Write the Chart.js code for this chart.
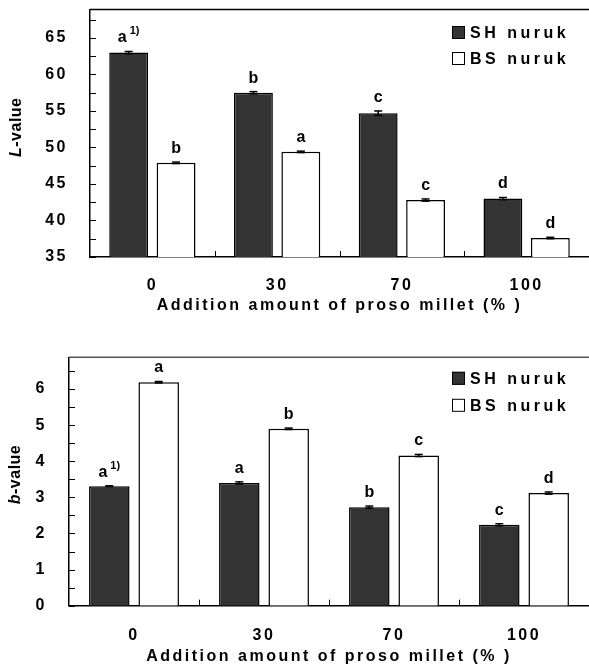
<!DOCTYPE html>
<html><head><meta charset="utf-8">
<script src="https://cdn.jsdelivr.net/npm/chart.js@4/dist/chart.umd.min.js"></script>
<style>
html,body{margin:0;padding:0;background:#fff;}
.box{position:absolute;left:0;width:589px;}
</style></head><body>
<div class="box" style="top:0;height:316px"><canvas id="c1"></canvas></div>
<div class="box" style="top:316px;height:350px"><canvas id="c2"></canvas></div>
<script>
// ---- data ----
const categories = ['0', '30', '70', '100'];
const seriesNames = ['SH nuruk', 'BS nuruk'];
const xTitle = 'Addition amount of proso millet (% )';

const lSH = [63.0, 57.5, 54.7, 43.0];
const lBS = [47.9, 49.4, 42.8, 37.6];
const lSHErr = [0.15, 0.15, 0.3, 0.15];
const lBSErr = [0.1, 0.1, 0.15, 0.1];
const lSHLetters = ['a', 'b', 'c', 'd'];
const lBSLetters = ['b', 'a', 'c', 'd'];
const lSHSup = ['1)', '', '', ''];
const lBSSup = ['', '', '', ''];
const lTicks = [35, 40, 45, 50, 55, 60, 65];
const lMinor = [37.5, 42.5, 47.5, 52.5, 57.5, 62.5, 67.5];

const bSH = [3.31, 3.40, 2.73, 2.24];
const bBS = [6.19, 4.90, 4.16, 3.12];
const bSHErr = [0.01, 0.03, 0.03, 0.03];
const bBSErr = [0.02, 0.02, 0.03, 0.03];
const bSHLetters = ['a', 'a', 'b', 'c'];
const bBSLetters = ['a', 'b', 'c', 'd'];
const bSHSup = ['1)', '', '', ''];
const bBSSup = ['', '', '', ''];
const bTicks = [0, 1, 2, 3, 4, 5, 6];
const bMinor = [0.5, 1.5, 2.5, 3.5, 4.5, 5.5, 6.5];

// ---- styling ----
const FONT = "'Liberation Sans', Arial, Helvetica, sans-serif";
const SH_COLOR = '#333333';
const BS_COLOR = '#ffffff';
const SPACING = '2.5px';

const spacingPlugin = {
  id: 'spacing',
  beforeUpdate(c) { c.ctx.letterSpacing = SPACING; },
  beforeDraw(c) { c.ctx.letterSpacing = SPACING; }
};

function line(ctx, x1, y1, x2, y2) {
  ctx.beginPath(); ctx.moveTo(x1, y1); ctx.lineTo(x2, y2); ctx.stroke();
}

const decor = {
  id: 'decor',
  afterDatasetsDraw(chart) {
    const cfg = chart.options.plugins.decor;
    const ctx = chart.ctx, ca = chart.chartArea;
    const xs = chart.scales.x, ys = chart.scales.y;
    ctx.save();
    ctx.letterSpacing = '0px';
    // top frame line
    ctx.strokeStyle = cfg.topColor; ctx.lineWidth = 1.5;
    line(ctx, ca.left, ca.top, ca.right, ca.top);
    // inside y ticks
    ctx.strokeStyle = '#000'; ctx.lineWidth = 1;
    cfg.major.concat(cfg.minor).forEach(v => {
      const y = Math.round(ys.getPixelForValue(v)) + 0.5;
      line(ctx, ca.left, y, ca.left + 6, y);
    });
    // inside x ticks at category boundaries
    const n = chart.data.labels.length;
    for (let i = 0; i < n - 1; i++) {
      const x = Math.round((xs.getPixelForValue(i) + xs.getPixelForValue(i + 1)) / 2) + 0.5;
      line(ctx, x, ca.bottom, x, ca.bottom - 6);
    }
    // error bars and letters
    chart.data.datasets.forEach((ds, di) => {
      const meta = chart.getDatasetMeta(di);
      meta.data.forEach((bar, j) => {
        const v = ds.data[j], e = cfg.errors[di][j];
        const yT = ys.getPixelForValue(v + e), yB = ys.getPixelForValue(v - e);
        ctx.strokeStyle = '#000'; ctx.lineWidth = 1.5;
        line(ctx, bar.x, yT, bar.x, yB);
        line(ctx, bar.x - 4, yT, bar.x + 4, yT);
        line(ctx, bar.x - 4, yB, bar.x + 4, yB);
        const txt = cfg.letters[di][j], sup = cfg.sups[di][j];
        ctx.fillStyle = '#000';
        ctx.textBaseline = 'alphabetic';
        ctx.textAlign = 'left';
        ctx.font = 'bold 16px ' + FONT;
        const w1 = ctx.measureText(txt).width;
        ctx.font = 'bold 11px ' + FONT;
        const w2 = sup ? ctx.measureText(sup).width + 3 : 0;
        const x0 = bar.x - (w1 + w2) / 2;
        const yb = Math.min(bar.y, yT) - 9;
        ctx.font = 'bold 16px ' + FONT;
        ctx.fillText(txt, x0, yb);
        if (sup) {
          ctx.font = 'bold 11px ' + FONT;
          ctx.fillText(sup, x0 + w1 + 3, yb - 8);
        }
      });
    });
    ctx.restore();
  },
  afterDraw(chart) {
    const cfg = chart.options.plugins.decor;
    const ctx = chart.ctx, ca = chart.chartArea;
    ctx.save();
    // legend
    ctx.letterSpacing = '3.5px';
    ctx.font = 'bold 16px ' + FONT;
    ctx.textBaseline = 'middle';
    ctx.textAlign = 'left';
    chart.data.datasets.forEach((ds, i) => {
      const yc = ca.top + cfg.legendRows[i];
      const xs0 = ca.right - 137;
      ctx.fillStyle = ds.backgroundColor;
      ctx.fillRect(xs0, yc - 6.5, 13, 13);
      ctx.strokeStyle = '#000'; ctx.lineWidth = 1;
      ctx.strokeRect(xs0 + 0.5, yc - 6, 12, 12);
      ctx.fillStyle = '#000';
      ctx.fillText(ds.label, xs0 + 18, yc + 1);
    });
    // y axis title with italic first letter
    ctx.letterSpacing = '0.5px';
    ctx.translate(cfg.yTitleX, (ca.top + ca.bottom) / 2 + cfg.yTitleDy);
    ctx.rotate(-Math.PI / 2);
    ctx.textBaseline = 'middle';
    ctx.font = 'italic bold 16px ' + FONT;
    const w1 = ctx.measureText(cfg.yTitle[0]).width;
    ctx.font = 'bold 16px ' + FONT;
    const w2 = ctx.measureText(cfg.yTitle[1]).width;
    const x0 = -(w1 + w2) / 2;
    ctx.font = 'italic bold 16px ' + FONT;
    ctx.fillText(cfg.yTitle[0], x0, 0);
    ctx.font = 'bold 16px ' + FONT;
    ctx.fillText(cfg.yTitle[1], x0 + w1, 0);
    ctx.restore();
  }
};

function makeChart(id, o) {
  return new Chart(document.getElementById(id), {
    type: 'bar',
    data: {
      labels: categories,
      datasets: [
        { label: seriesNames[0], data: o.sh, backgroundColor: SH_COLOR, borderColor: '#000', borderWidth: 1.5 },
        { label: seriesNames[1], data: o.bs, backgroundColor: BS_COLOR, borderColor: '#000', borderWidth: 1.5 }
      ]
    },
    options: {
      responsive: true,
      maintainAspectRatio: false,
      animation: false,
      layout: { padding: { left: 0, right: 0, top: o.top, bottom: 0 } },
      datasets: { bar: { categoryPercentage: 0.76, barPercentage: 0.82 } },
      plugins: {
        legend: { display: false },
        tooltip: { enabled: false },
        decor: {
          topColor: o.topColor, major: o.ticks, minor: o.minor,
          errors: [o.shErr, o.bsErr], letters: [o.shL, o.bsL], sups: [o.shS, o.bsS],
          legendRows: o.legendRows, yTitle: o.yTitle, yTitleX: o.yTitleX, yTitleDy: o.yTitleDy
        }
      },
      scales: {
        x: {
          grid: { display: false, drawTicks: false },
          border: { display: true, color: '#000', width: 1.5 },
          ticks: { color: '#000', font: { family: FONT, size: 16, weight: 'bold' }, padding: o.tickPad, maxRotation: 0 },
          title: { display: true, text: xTitle, color: '#000', font: { family: FONT, size: 16, weight: 'bold' }, padding: { top: 0, bottom: o.titlePad } },
          afterFit(s) { s.height = o.xh; s.paddingLeft = 0; s.paddingRight = 0; }
        },
        y: {
          min: o.min, max: o.max,
          grid: { display: false, drawTicks: false },
          border: { display: true, color: '#000', width: 1.5 },
          ticks: { color: '#000', font: { family: FONT, size: 16, weight: 'bold' }, padding: 22 },
          afterBuildTicks(s) { s.ticks = o.ticks.map(v => ({ value: v })); },
          afterFit(s) { s.width = o.left; s.paddingTop = 0; s.paddingBottom = 0; }
        }
      }
    },
    plugins: [spacingPlugin, decor]
  });
}

makeChart('c1', {
  sh: lSH, bs: lBS, shErr: lSHErr, bsErr: lBSErr, shL: lSHLetters, bsL: lBSLetters, shS: lSHSup, bsS: lBSSup,
  ticks: lTicks, minor: lMinor, min: 35, max: 68.9,
  left: 90, top: 9.5, xh: 59, tickPad: 19, titlePad: 1, topColor: '#000',
  legendRows: [23, 49], yTitle: ['L', '-value'], yTitleX: 17, yTitleDy: -6
});
makeChart('c2', {
  sh: bSH, bs: bBS, shErr: bSHErr, bsErr: bBSErr, shL: bSHLetters, bsL: bBSLetters, shS: bSHSup, bsS: bBSSup,
  ticks: bTicks, minor: bMinor, min: 0, max: 6.88,
  left: 69, top: 41.3, xh: 60.3, tickPad: 20, titlePad: 0, topColor: '#555',
  legendRows: [21, 48], yTitle: ['b', '-value'], yTitleX: 16, yTitleDy: -7
});
</script>
</body></html>
